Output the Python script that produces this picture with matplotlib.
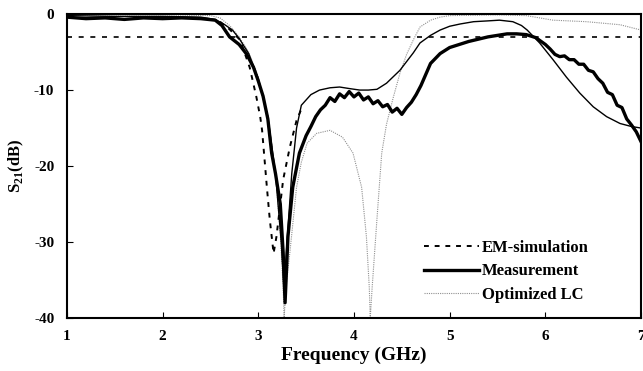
import matplotlib
matplotlib.use("Agg")
import matplotlib.pyplot as plt

plt.rcParams['font.family'] = 'Liberation Serif'
plt.rcParams['font.weight'] = 'bold'
plt.rcParams['mathtext.fontset'] = 'custom'
plt.rcParams['mathtext.rm'] = 'Liberation Serif:bold'
plt.rcParams['axes.unicode_minus'] = False

# Measurement (thick line, with ripple)
meas_f = [1.0, 1.2, 1.4, 1.6, 1.8, 2.0, 2.2, 2.4, 2.55, 2.62, 2.7, 2.8, 2.88, 2.95,
          3.0, 3.05, 3.1, 3.14, 3.18, 3.23, 3.26, 3.28, 3.31, 3.36, 3.43, 3.5, 3.55,
          3.6, 3.65, 3.7, 3.75, 3.8, 3.85, 3.9, 3.95, 4.0, 4.05, 4.1, 4.15, 4.2, 4.25,
          4.3, 4.35, 4.4, 4.45, 4.5, 4.55, 4.6, 4.65, 4.7, 4.8, 4.9, 5.0, 5.1, 5.2,
          5.3, 5.4, 5.5, 5.6, 5.7, 5.8, 5.9, 6.0, 6.05, 6.1, 6.15, 6.2, 6.25, 6.3,
          6.35, 6.4, 6.45, 6.5, 6.55, 6.6, 6.65, 6.7, 6.75, 6.8, 6.85, 6.9, 6.95, 7.0]
meas_db = [-0.4, -0.6, -0.5, -0.7, -0.5, -0.6, -0.5, -0.6, -0.8, -1.5, -3.0, -4.0, -5.3, -7.0,
           -8.8, -10.8, -13.8, -18.3, -21.0, -25.0, -31.4, -38.0, -29.3, -22.8, -18.3, -16.0, -14.8,
           -13.5, -12.6, -12.0, -11.0, -11.5, -10.5, -11.0, -10.2, -10.9, -10.4, -11.3, -10.9, -11.8, -11.4,
           -12.2, -11.9, -12.9, -12.4, -13.2, -12.3, -11.6, -10.6, -9.4, -6.5, -5.2, -4.4, -4.0, -3.6,
           -3.3, -3.0, -2.8, -2.6, -2.6, -2.7, -3.1, -4.0, -4.6, -5.3, -5.6, -5.5, -6.0, -6.0,
           -6.6, -6.6, -7.4, -7.6, -8.5, -9.1, -10.3, -10.6, -12.0, -12.3, -13.8, -14.6, -15.5, -16.8]

# thin solid simulated curve
sim_f = [1.0, 1.5, 2.0, 2.4, 2.55, 2.65, 2.73, 2.8, 2.9, 3.0, 3.1, 3.18, 3.24, 3.27,
         3.3, 3.35, 3.4, 3.45, 3.55, 3.64, 3.75, 3.85, 3.95, 4.06, 4.15, 4.24, 4.34,
         4.48, 4.62, 4.69, 4.8, 4.9, 5.0, 5.11, 5.25, 5.39, 5.52, 5.66, 5.75, 5.81,
         5.94, 6.08, 6.22, 6.36, 6.5, 6.64, 6.78, 6.9, 7.0]
sim_db = [-0.2, -0.3, -0.3, -0.4, -0.7, -1.4, -2.1, -3.2, -5.2, -8.5, -13.5, -21.0, -30.0, -36.5,
          -30.0, -21.0, -15.0, -12.0, -10.6, -10.0, -9.7, -9.6, -9.8, -10.0, -10.0, -9.9, -9.1,
          -7.4, -5.1, -3.8, -2.8, -2.1, -1.6, -1.3, -1.0, -0.9, -0.8, -1.0, -1.5, -2.1,
          -3.8, -6.0, -8.3, -10.4, -12.2, -13.5, -14.4, -14.8, -15.0]

# EM-simulation (dashed)
em_f = [2.6, 2.7, 2.81, 2.91, 2.98, 3.02, 3.04, 3.09, 3.12, 3.16, 3.19, 3.26, 3.33, 3.4, 3.45]
em_db = [-1.0, -2.0, -3.4, -7.0, -10.9, -13.5, -15.3, -22.8, -27.0, -31.5, -29.3, -21.8, -17.5, -14.0, -12.5]

# Optimized LC (gray dotted)
lc_f = [1.0, 2.0, 2.5, 2.6, 2.7, 2.8, 2.9, 3.0, 3.1, 3.18, 3.23, 3.26, 3.27, 3.29, 3.33,
        3.4, 3.45, 3.51, 3.61, 3.75, 3.88, 3.99, 4.08, 4.13, 4.16, 4.17, 4.19, 4.24, 4.29,
        4.34, 4.41, 4.48, 4.55, 4.62, 4.69, 4.8, 4.9, 5.0, 5.5, 5.8, 6.08, 6.43, 6.78, 7.0]
lc_db = [-0.1, -0.1, -0.2, -0.5, -1.5, -3.0, -5.0, -8.3, -13.5, -21.0, -29.0, -36.0, -40.0, -36.0, -31.4,
         -22.8, -19.5, -17.0, -15.7, -15.3, -16.2, -18.3, -22.8, -29.3, -36.0, -40.0, -36.0, -27.0, -18.3,
         -14.5, -11.0, -7.8, -5.3, -3.4, -1.7, -0.8, -0.4, -0.2, -0.1, -0.2, -0.8, -1.0, -1.4, -2.1]

ref_level = -3

fig = plt.figure(figsize=(6.43, 3.71), dpi=100)
ax = fig.add_axes([0.104, 0.143, 0.893, 0.819])

ax.axhline(ref_level, color='black', lw=1.2, ls=(0, (3, 4)))
ax.plot(lc_f, lc_db, color='#909090', lw=0.8, ls=(0, (1, 1)), label='Optimized LC')
ax.plot(sim_f, sim_db, color='black', lw=1.0)
ax.plot(em_f, em_db, color='black', lw=1.4, ls=(0, (2.5, 3)), label='EM-simulation')
ax.plot(meas_f, meas_db, color='black', lw=2.4, label='Measurement')

ax.set_xlim(1, 7)
ax.set_ylim(-40, 0)
ax.set_xticks([1, 2, 3, 4, 5, 6, 7])
ax.set_yticks([-40, -30, -20, -10, 0])
ax.tick_params(direction='in', length=4, width=0.8, labelsize=11)
ax.tick_params(axis='x', pad=9)
ax.tick_params(axis='y', pad=9)
for s in ax.spines.values():
    s.set_linewidth(1.5)

ax.set_xlabel('Frequency (GHz)', fontsize=14, fontweight='bold', labelpad=2)
ax.set_ylabel(r'S$_\mathregular{21}$(dB)', fontsize=12, fontweight='bold', labelpad=6)

h, l = ax.get_legend_handles_labels()
order = [l.index('EM-simulation'), l.index('Measurement'), l.index('Optimized LC')]
ax.legend([h[i] for i in order], [l[i] for i in order], loc='lower right',
          bbox_to_anchor=(0.935, 0.0), frameon=False, handlelength=3.3, handletextpad=0.2,
          labelspacing=0.45, prop={'family': 'Liberation Serif', 'weight': 'bold', 'size': 12})

fig.savefig('out.png', dpi=100)
